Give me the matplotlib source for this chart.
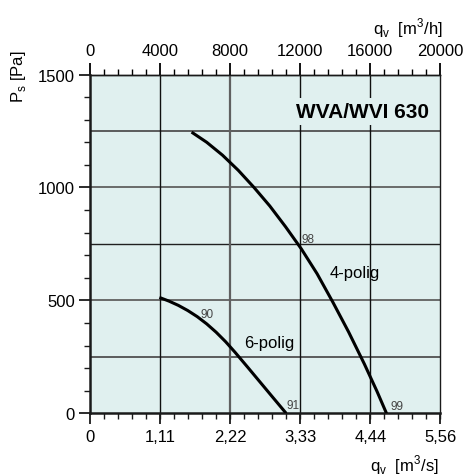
import matplotlib
matplotlib.use("Agg")
import matplotlib.pyplot as plt
from matplotlib.ticker import MultipleLocator, FixedLocator

plt.rcParams['font.family'] = ['Liberation Sans', 'DejaVu Sans']
plt.rcParams['mathtext.fontset'] = 'custom'
plt.rcParams['mathtext.rm'] = 'Liberation Sans'

# ---- data ----
q_4pol = [1.61, 1.85, 2.10, 2.35, 2.60, 2.85, 3.10, 3.35, 3.60, 3.85, 4.10, 4.35, 4.55, 4.70]
p_4pol = [1245, 1200, 1143, 1076, 1000, 918, 826, 728, 618, 492, 360, 218, 97, 0]
q_6pol = [1.10, 1.25, 1.40, 1.55, 1.70, 1.85, 2.00, 2.15, 2.30, 2.50, 2.70, 2.90, 3.11]
p_6pol = [513, 497, 478, 455, 428, 396, 359, 317, 270, 204, 137, 70, 0]

x_ticks_s = [0, 1.111, 2.222, 3.333, 4.444, 5.556]
x_labels_s = ["0", "1,11", "2,22", "3,33", "4,44", "5,56"]
x_ticks_h = [0, 4000, 8000, 12000, 16000, 20000]
y_ticks = [0, 500, 1000, 1500]

eff_labels = ["98", "99", "90", "91"]
eff_pos_q = [3.35, 4.76, 1.75, 3.12]
eff_pos_p = [772, 32, 440, 36]

curve_names = ["4-polig", "6-polig"]
name_q = [4.20, 2.84]
name_p = [624, 314]

title = "WVA/WVI 630"

fig = plt.figure(figsize=(4.68, 4.77), dpi=100)
ax = fig.add_axes([0.1923, 0.1314, 0.7489, 0.7103])
ax.set_facecolor('#e0f0ef')
ax.set_xlim(0, 20000 / 3600)
ax.set_ylim(0, 1500)

# grid lines
for yv, col, lw in [(250, '#505050', 1.3), (500, '#606060', 1.3), (750, '#202020', 1.0),
                    (1000, '#606060', 1.3), (1250, '#505050', 1.3)]:
    ax.axhline(yv, color=col, lw=lw, zorder=1)
for xv, col, lw in [(x_ticks_s[1], '#101010', 1.0), (x_ticks_s[2], '#606060', 1.6),
                    (x_ticks_s[3], '#101010', 1.0), (x_ticks_s[4], '#101010', 1.0)]:
    ax.axvline(xv, color=col, lw=lw, zorder=1)

ax.plot(q_4pol, p_4pol, color='black', lw=2.2, zorder=3, solid_capstyle='butt',
        solid_joinstyle='round')
ax.plot(q_6pol, p_6pol, color='black', lw=2.2, zorder=3, solid_capstyle='butt',
        solid_joinstyle='round')

for t, xq, yp in zip(eff_labels, eff_pos_q, eff_pos_p):
    ax.text(xq, yp, t, fontsize=8.5, color='#444444', ha='left', va='center', zorder=4)
for t, xq, yp in zip(curve_names, name_q, name_p):
    ax.text(xq, yp, t, fontsize=12, color='black', ha='center', va='center', zorder=4)

ax.text(5.37, 1335, title, fontsize=15, fontweight='bold', ha='right', va='center', zorder=2,
        bbox=dict(facecolor='#e0f0ef', edgecolor='none', pad=3))

# spines
for s in ['left', 'bottom']:
    ax.spines[s].set_linewidth(1.8)
    ax.spines[s].set_color('#1a1a1a')
for s in ['top', 'right']:
    ax.spines[s].set_linewidth(1.0)
    ax.spines[s].set_color('#1a1a1a')

ax.set_xticks(x_ticks_s)
ax.set_xticklabels(x_labels_s)
ax.xaxis.set_minor_locator(FixedLocator([i * 4000 / 3600 / 5 for i in range(26)]))
ax.set_yticks(y_ticks)
ax.yaxis.set_minor_locator(MultipleLocator(100))
ax.tick_params(axis='both', which='major', direction='out', length=8, width=1.3,
               labelsize=12, color='#1a1a1a', pad=3)
ax.tick_params(axis='both', which='minor', direction='out', length=4, width=1.0, color='#1a1a1a')

sec = ax.secondary_xaxis('top', functions=(lambda q: q * 3600, lambda h: h / 3600))
sec.set_xticks(x_ticks_h)
sec.xaxis.set_minor_locator(MultipleLocator(800))
sec.tick_params(which='major', direction='out', length=9, width=1.3, labelsize=12, pad=3)
sec.tick_params(which='minor', direction='out', length=4, width=1.0)
sec.spines['top'].set_linewidth(1.0)

fig.text(0.947, 0.941, r"q$_\mathregular{v}$  [m$^\mathregular{3}$/h]", fontsize=12,
         ha='right', va='center')
fig.text(0.938, 0.024, r"q$_\mathregular{v}$  [m$^\mathregular{3}$/s]", fontsize=12,
         ha='right', va='center')
fig.text(0.0395, 0.84, r"P$_\mathregular{s}$ [Pa]", fontsize=12, rotation=90,
         ha='center', va='center')

fig.savefig("out.png", dpi=100)
